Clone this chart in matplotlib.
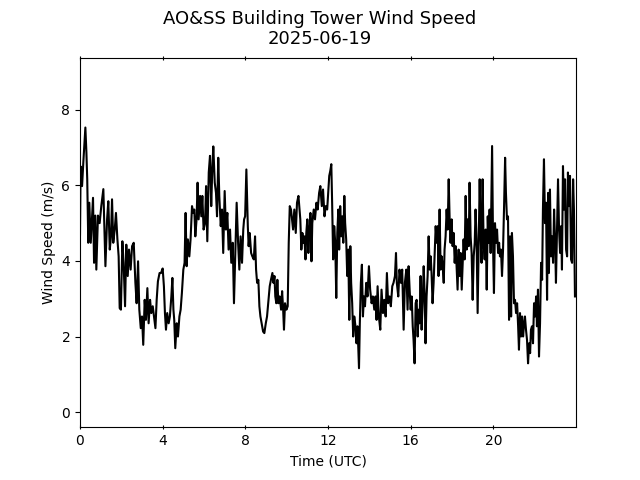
import matplotlib
matplotlib.use("Agg")
import matplotlib.pyplot as plt

# Time (hours UTC) and wind speed (m/s)
hours = [
    0.0, 0.03, 0.1, 0.16, 0.26, 0.31, 0.35, 0.40, 0.45, 0.52, 0.58, 0.63, 0.68, 0.74, 0.79, 0.87, 0.95,
    1.03, 1.13, 1.23, 1.31, 1.37, 1.44, 1.5, 1.55, 1.61, 1.68, 1.74, 1.81, 1.87, 1.92, 1.98,
    2.05, 2.11, 2.18, 2.24, 2.31, 2.37, 2.45, 2.52, 2.6, 2.68, 2.74, 2.81, 2.87, 2.94,
    3.0, 3.06, 3.13, 3.19, 3.26, 3.32, 3.39, 3.45, 3.52, 3.58, 3.65, 3.71, 3.77, 3.85,
    3.92, 4.0, 4.06, 4.11, 4.16, 4.22, 4.29, 4.35, 4.42, 4.47, 4.52, 4.56, 4.61, 4.68, 4.74, 4.81, 4.87, 4.93,
    5.0, 5.06, 5.11, 5.16, 5.22, 5.29, 5.35, 5.42, 5.48, 5.53, 5.58, 5.64, 5.69, 5.74, 5.81, 5.87, 5.92, 5.98,
    6.05, 6.1, 6.16, 6.23, 6.29, 6.35, 6.4, 6.45, 6.52, 6.58, 6.63, 6.69, 6.74, 6.81, 6.87, 6.93,
    7.0, 7.06, 7.13, 7.19, 7.26, 7.32, 7.39, 7.45, 7.52, 7.58, 7.65, 7.71, 7.77, 7.84, 7.9,
    7.94, 7.99, 8.05, 8.12, 8.16, 8.21, 8.28, 8.34, 8.41, 8.47, 8.52, 8.57, 8.63, 8.68, 8.73, 8.79, 8.86, 8.92, 8.99,
    9.05, 9.12, 9.18, 9.24, 9.31, 9.36, 9.41, 9.45, 9.5, 9.55, 9.6, 9.66, 9.73, 9.78, 9.83, 9.87, 9.92, 9.99,
    10.05, 10.1, 10.15, 10.21, 10.26, 10.31, 10.37, 10.44, 10.5, 10.57, 10.62, 10.66, 10.71, 10.76, 10.81, 10.86, 10.91, 10.95,
    11.0, 11.05, 11.1, 11.15, 11.2, 11.24, 11.31, 11.37, 11.44, 11.5, 11.57, 11.63, 11.7, 11.76, 11.83, 11.89,
    11.96, 12.01, 12.06, 12.11, 12.16, 12.2, 12.25, 12.3, 12.35, 12.4, 12.45, 12.5, 12.54, 12.59, 12.64, 12.69, 12.74, 12.79, 12.83, 12.88, 12.93, 12.98,
    13.03, 13.08, 13.12, 13.17, 13.22, 13.27, 13.33, 13.38, 13.43, 13.5, 13.54, 13.59, 13.64, 13.69, 13.74, 13.79, 13.85, 13.91, 13.98,
    14.04, 14.11, 14.17, 14.24, 14.3, 14.35, 14.4, 14.46, 14.53, 14.59, 14.66, 14.72, 14.79, 14.85, 14.91, 14.98,
    15.04, 15.11, 15.17, 15.24, 15.29, 15.33, 15.4, 15.46, 15.53, 15.59, 15.66, 15.72, 15.79, 15.85,
    15.9, 15.95, 16.0, 16.05, 16.1, 16.14, 16.19, 16.24, 16.29, 16.34, 16.39, 16.43, 16.48, 16.53, 16.58, 16.63, 16.68, 16.72, 16.77, 16.82, 16.87, 16.92, 16.97,
    17.01, 17.06, 17.11, 17.16, 17.21, 17.26, 17.31, 17.35, 17.4, 17.45, 17.5, 17.55, 17.6, 17.64, 17.69, 17.74, 17.79, 17.84, 17.89, 17.93, 17.98,
    18.03, 18.08, 18.13, 18.18, 18.22, 18.27, 18.32, 18.37, 18.42, 18.47, 18.51, 18.56, 18.61, 18.66, 18.71, 18.76, 18.81, 18.85, 18.9, 18.95,
    19.0, 19.05, 19.1, 19.14, 19.19, 19.24, 19.29, 19.34, 19.39, 19.43, 19.48, 19.53, 19.58, 19.63, 19.68, 19.73, 19.77, 19.82, 19.87,
    19.94, 19.99, 20.03, 20.08, 20.13, 20.18, 20.23, 20.28, 20.32, 20.37, 20.42, 20.47, 20.52, 20.57, 20.61, 20.66, 20.71, 20.76, 20.81, 20.86, 20.9, 20.95,
    21.0, 21.05, 21.1, 21.15, 21.2, 21.24, 21.29, 21.34, 21.39, 21.44, 21.49, 21.53, 21.58, 21.63, 21.68, 21.73, 21.78, 21.82, 21.87, 21.92, 21.97,
    22.02, 22.07, 22.11, 22.16, 22.21, 22.26, 22.31, 22.36, 22.4, 22.45, 22.5, 22.55, 22.6, 22.65, 22.69, 22.74, 22.79, 22.84, 22.89, 22.94, 22.99,
    23.03, 23.08, 23.13, 23.18, 23.23, 23.28, 23.32, 23.37, 23.42, 23.47, 23.52, 23.57, 23.61, 23.66, 23.71, 23.76, 23.81, 23.86, 23.9, 23.95,
]

wind_speed = [
    4.7, 6.5, 5.98, 6.6, 7.53, 6.87, 6.16, 4.48, 5.54, 4.48, 5.1, 5.67, 3.95, 5.2, 3.77, 5.2, 5.0,
    5.45, 5.9, 3.86, 5.1, 5.58, 4.3, 4.65, 5.63, 4.48, 4.83, 5.27, 4.57, 4.12, 2.75, 2.71,
    4.52, 3.95, 2.8, 4.43, 3.6, 4.3, 3.77, 4.39, 4.48, 3.42, 2.88, 3.99, 2.71, 2.22,
    2.53, 1.78, 2.97, 2.44, 3.28, 2.35, 2.97, 2.62, 2.8, 2.53, 2.22, 2.97, 3.46, 3.68,
    3.68, 3.8, 3.33, 2.62, 2.18, 2.62, 2.35, 2.53, 3.06, 3.55, 2.71, 2.44, 1.69, 2.35, 2.0, 2.53, 2.71, 3.15,
    3.77, 3.95, 5.27, 3.86, 4.57, 4.12, 4.57, 5.45, 5.27, 5.36, 4.65, 5.1, 6.07, 5.1, 5.72, 5.18, 5.72, 4.83,
    5.0, 5.98, 4.52, 6.34, 6.78, 5.45, 6.42, 7.03, 6.07, 5.8, 5.18, 6.73, 5.72, 4.92, 5.36, 4.21,
    5.85, 4.83, 5.27, 4.3, 4.83, 3.95, 4.48, 2.88, 4.3, 5.54, 4.48, 3.77, 4.65, 3.95, 4.83,
    5.1, 5.18, 6.42, 4.92, 4.39, 4.74, 4.21, 4.12, 4.04, 4.65, 3.77, 3.42, 3.5, 2.8, 2.53, 2.35, 2.13, 2.09, 2.35,
    2.53, 2.97, 3.33, 3.5, 3.68, 3.42, 3.6, 3.06, 2.88, 3.5, 2.88, 3.06, 2.71, 3.2, 2.71, 2.18, 2.88, 2.71,
    2.8, 4.48, 5.45, 5.36, 5.1, 4.83, 5.36, 4.74, 5.54, 5.72, 5.36, 5.1, 4.3, 4.74, 4.48, 4.65, 4.04, 4.74,
    5.1, 4.21, 4.83, 5.27, 3.99, 5.0, 5.36, 5.1, 5.54, 5.36, 5.8, 5.98, 5.45, 5.89, 5.18, 5.45,
    5.36, 5.8, 6.25, 6.38, 6.56, 5.54, 4.04, 4.92, 4.48, 3.02, 4.74, 5.36, 4.3, 5.45, 4.65, 5.18, 4.48, 5.72, 5.0, 4.57, 3.6, 4.3,
    2.44, 4.39, 3.42, 2.88, 2.0, 2.53, 2.27, 1.82, 2.27, 1.16, 2.35, 3.42, 3.9, 2.53, 3.06, 2.8, 3.42, 3.06, 3.86,
    3.24, 2.88, 3.06, 2.71, 3.06, 2.44, 3.33, 2.53, 2.18, 3.24, 2.62, 2.97, 2.53, 3.68, 2.88, 3.06,
    2.8, 3.33, 3.42, 3.6, 4.21, 3.42, 3.06, 3.77, 3.42, 3.77, 2.18, 3.42, 3.77, 2.71,
    3.86, 3.24, 2.71, 3.06, 2.27, 1.91, 1.29, 2.88, 2.97, 2.0, 2.71, 2.35, 3.6, 2.18, 2.88, 3.86, 3.06, 1.82, 3.06, 3.6, 4.65, 3.77, 4.12,
    3.68, 2.88, 3.42, 4.21, 4.92, 4.48, 4.92, 3.6, 5.36, 3.77, 4.12, 3.86, 3.42, 4.3, 4.65, 5.36, 4.83, 6.16, 5.0, 4.48, 5.1,
    4.39, 4.74, 3.95, 4.39, 3.86, 3.24, 4.3, 3.6, 4.21, 3.24, 3.86, 4.57, 4.04, 5.72, 4.3, 5.1, 4.39, 6.07, 4.65, 4.21,
    2.97, 4.12, 4.48, 5.36, 4.57, 2.62, 4.3, 6.16, 4.65, 3.95, 6.16, 4.48, 4.04, 4.83, 3.24, 5.18, 4.48, 5.36, 4.21,
    7.04, 4.3, 3.15, 5.0, 4.48, 4.83, 4.21, 4.48, 4.12, 4.3, 3.6, 4.3, 5.45, 6.73, 5.8, 5.1, 5.18, 2.44, 4.65, 2.53, 4.74, 4.12,
    2.88, 2.97, 2.62, 2.88, 2.27, 1.65, 2.62, 2.0, 2.53, 2.0, 2.35, 2.53, 2.18, 1.91, 1.29, 1.82, 1.56, 2.18, 2.27, 1.82, 2.88,
    2.53, 3.06, 2.27, 3.24, 1.47, 2.35, 3.95, 3.5, 5.36, 6.69, 5.0, 5.54, 2.97, 5.8, 3.68, 5.89, 4.12, 4.65, 3.95, 5.36, 4.48,
    3.42, 4.83, 6.16, 4.83, 4.21, 4.92, 3.77, 6.51, 5.36, 6.16, 4.3, 4.12, 6.34, 5.45, 6.25, 4.04, 3.95, 6.16, 5.36, 3.06,
]

x_ticks = [0, 4, 8, 12, 16, 20]
y_ticks = [0, 2, 4, 6, 8]

fig, ax = plt.subplots(figsize=(6.4, 4.8), dpi=100)
ax.plot(hours, wind_speed, color="black", linewidth=1.5)
ax.set_xlim(0, 24)
ax.set_ylim(-0.4, 9.38)
ax.set_xticks(x_ticks)
ax.set_yticks(y_ticks)
ax.tick_params(axis="x", direction="inout", top=True)
ax.set_xlabel("Time (UTC)")
ax.set_ylabel("Wind Speed (m/s)")
fig.suptitle("AO&SS Building Tower Wind Speed\n2025-06-19", fontsize=13)
fig.savefig("out.png", dpi=100)
